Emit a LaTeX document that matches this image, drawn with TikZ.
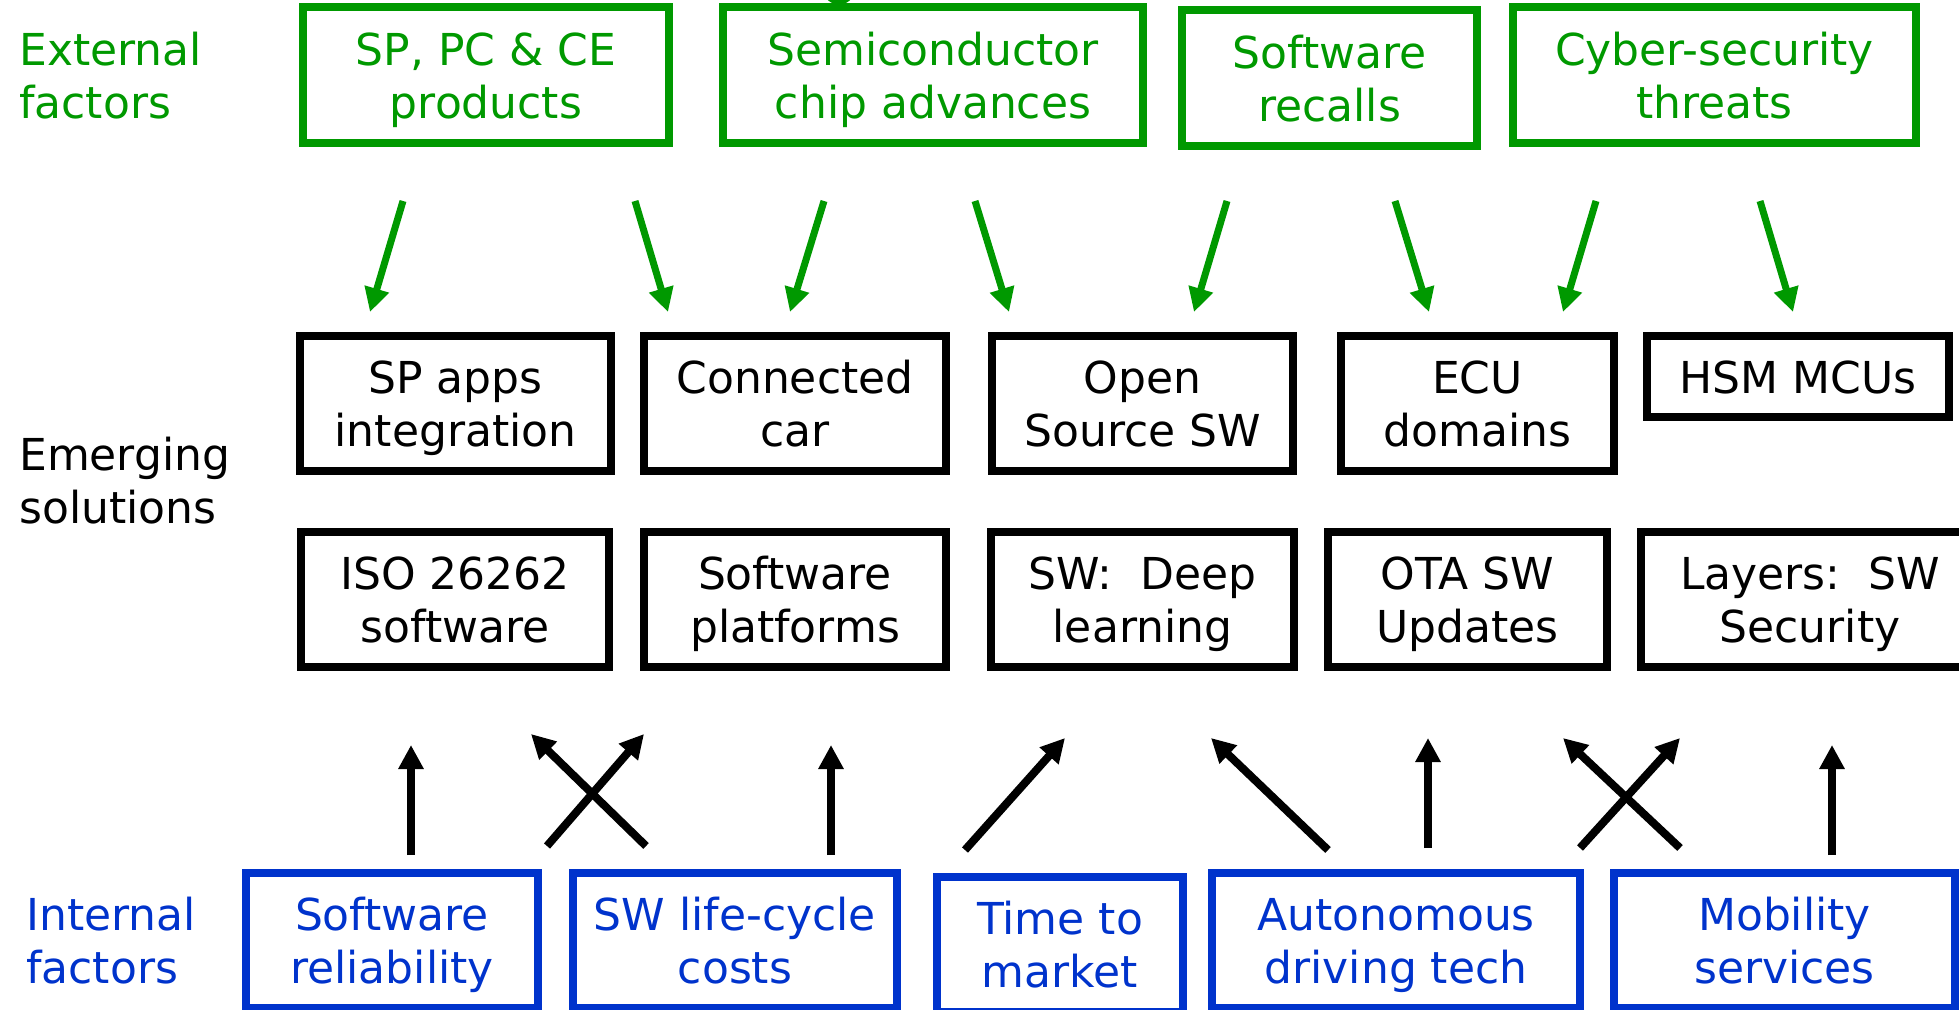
\documentclass[tikz,border=0pt]{standalone}
\usepackage{fontspec}
\setmainfont{DejaVu Sans}
\usetikzlibrary{arrows.meta}
\definecolor{extgreen}{RGB}{0,153,0}
\definecolor{intblue}{RGB}{0,51,204}
% fixed line height so every box centres its text the same way
\newcommand{\ystrut}{\rule[-0.22em]{0pt}{1.19em}}

\begin{document}
\begin{tikzpicture}[x=1pt,y=-1pt,
  every node/.style={font=\fontsize{44}{53}\selectfont, inner sep=0pt, align=center},
  factorbox/.style={draw, line width=8pt, minimum height=135pt},
  extbox/.style={factorbox, draw=extgreen, text=extgreen, minimum height=136pt},
  solbox/.style={factorbox, draw=black, text=black},
  intbox/.style={factorbox, draw=intblue, text=intblue},
  rowlabel/.style={anchor=west, align=left},
  extarrow/.style={draw=extgreen, line width=7pt, -{Triangle[length=24pt,width=24pt]}},
  intarrow/.style={draw=black, line width=8pt, -{Triangle[length=24pt,width=24pt]}}
]
\useasboundingbox (0,0) rectangle (1959,1009);
\fill[white] (0,0) rectangle (1959,1009);
\clip (0,0) rectangle (1959,1009);

% tail of a title letter above the top row
\draw[extgreen, line width=4pt] (828,-3) .. controls (832,4) and (846,4) .. (850,-3);

% row labels
\node[rowlabel, text=extgreen] (extlabel) at (19,75) {\ystrut External\\\ystrut factors};
\node[rowlabel, text=black] (sollabel) at (19,480.5) {\ystrut Emerging\\\ystrut solutions};
\node[rowlabel, text=intblue] (intlabel) at (26,940) {\ystrut Internal\\\ystrut factors};

% external factors
\node[extbox, minimum width=366pt] (sppc) at (486,75) {\ystrut SP, PC \& CE\\\ystrut products};
\node[extbox, minimum width=420pt] (semi) at (933,75) {\ystrut Semiconductor\\\ystrut chip advances};
\node[extbox, minimum width=295pt] (recall) at (1329.5,78) {\ystrut Software\\\ystrut recalls};
\node[extbox, minimum width=403pt] (cyber) at (1714.5,75) {\ystrut Cyber-security\\\ystrut threats};

% emerging solutions, first row
\node[solbox, minimum width=311pt] (spapps) at (455.5,403.5) {\ystrut SP apps\\\ystrut integration};
\node[solbox, minimum width=302pt] (conn) at (795,403.5) {\ystrut Connected\\\ystrut car};
\node[solbox, minimum width=301pt] (oss) at (1142.5,403.5) {\ystrut Open\\\ystrut Source SW};
\node[solbox, minimum width=273pt] (ecu) at (1477.5,403.5) {\ystrut ECU\\\ystrut domains};
\node[solbox, minimum width=302pt, minimum height=81pt] (hsm) at (1798,376.5) {\ystrut HSM MCUs};

% emerging solutions, second row
\node[solbox, minimum width=308pt] (iso) at (455,599.5) {\ystrut ISO 26262\\\ystrut software};
\node[solbox, minimum width=302pt] (swplat) at (795,599.5) {\ystrut Software\\\ystrut platforms};
\node[solbox, minimum width=303pt] (deep) at (1142.5,599.5) {\ystrut SW:\ \ Deep\\\ystrut learning};
\node[solbox, minimum width=279pt] (ota) at (1467.5,599.5) {\ystrut OTA SW\\\ystrut Updates};
\node[solbox, minimum width=338pt] (layers) at (1810,599.5) {\ystrut Layers:\ \ SW\\\ystrut Security};

% internal factors
\node[intbox, minimum width=292pt] (rel) at (392,940.5) {\ystrut Software\\\ystrut reliability};
\node[intbox, minimum width=324pt] (life) at (735,940.5) {\ystrut SW life-cycle\\\ystrut costs};
\node[intbox, minimum width=246pt] (ttm) at (1060,944.5) {\ystrut Time to\\\ystrut market};
\node[intbox, minimum width=368pt] (auto) at (1396,940.5) {\ystrut Autonomous\\\ystrut driving tech};
\node[intbox, minimum width=341pt] (mob) at (1784.5,940.5) {\ystrut Mobility\\\ystrut services};

% end points of the external-factor arrows
\coordinate (e1s) at (403,201);  \coordinate (e1t) at (370,312);
\coordinate (e2s) at (635,201);  \coordinate (e2t) at (668,312);
\coordinate (e3s) at (824,201);  \coordinate (e3t) at (790,312);
\coordinate (e4s) at (975,201);  \coordinate (e4t) at (1009,312);
\coordinate (e5s) at (1227,201); \coordinate (e5t) at (1194,312);
\coordinate (e6s) at (1395,201); \coordinate (e6t) at (1429,312);
\coordinate (e7s) at (1596,201); \coordinate (e7t) at (1563,312);
\coordinate (e8s) at (1760,201); \coordinate (e8t) at (1793,312);
\foreach \k in {1,...,8} \draw[extarrow] (e\k s) -- (e\k t);

% end points of the internal-factor arrows
\coordinate (i1s) at (411,855);   \coordinate (i1t) at (411,745);
\coordinate (i2s) at (547,846);   \coordinate (i2t) at (644,734);
\coordinate (i3s) at (646,846);   \coordinate (i3t) at (531,734);
\coordinate (i4s) at (831,855);   \coordinate (i4t) at (831,745);
\coordinate (i5s) at (965,850);   \coordinate (i5t) at (1065,738);
\coordinate (i6s) at (1328,850);  \coordinate (i6t) at (1211,738);
\coordinate (i7s) at (1428,848);  \coordinate (i7t) at (1428,738);
\coordinate (i8s) at (1580,848);  \coordinate (i8t) at (1680,738);
\coordinate (i9s) at (1680,848);  \coordinate (i9t) at (1563,738);
\coordinate (i10s) at (1832,855); \coordinate (i10t) at (1832,745);
\foreach \k in {1,...,10} \draw[intarrow] (i\k s) -- (i\k t);
\end{tikzpicture}
\end{document}
